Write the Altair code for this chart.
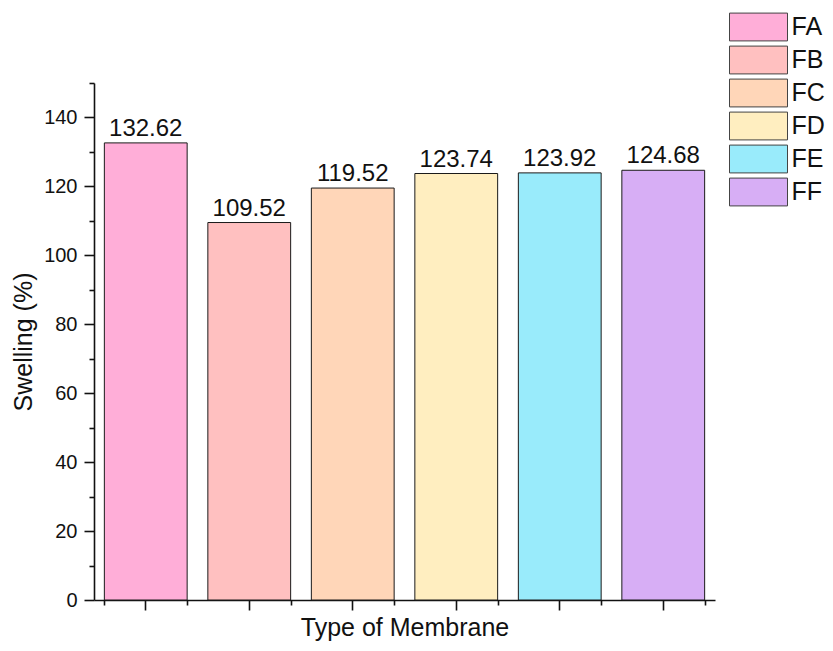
import altair as alt
import pandas as pd

membranes = ["FA", "FB", "FC", "FD", "FE", "FF"]
swelling = [132.62, 109.52, 119.52, 123.74, 123.92, 124.68]
colors = ["#FFAED8", "#FFC0C0", "#FFD6B8", "#FFEEC0", "#99EBFB", "#D7AEF5"]
major_y = [0, 20, 40, 60, 80, 100, 120, 140]
minor_y = [10, 30, 50, 70, 90, 110, 130, 150]

df = pd.DataFrame({"Membrane": membranes, "Swelling": swelling})
df["Label"] = [f"{v:.2f}" for v in swelling]

FONT = "Liberation Sans"

xscale = alt.Scale(paddingInner=0.2, paddingOuter=0.1)
yscale = alt.Scale(domain=[0, 150], nice=False, zero=True)
cscale = alt.Scale(domain=membranes, range=colors)

bars = alt.Chart(df).mark_bar(stroke="#1a1a1a", strokeWidth=1).encode(
    x=alt.X("Membrane:N", sort=membranes, scale=xscale,
            axis=alt.Axis(title="Type of Membrane", labels=False, tickSize=10,
                          orient="bottom", titlePadding=5)),
    y=alt.Y("Swelling:Q", scale=yscale,
            axis=alt.Axis(title="Swelling (%)", values=major_y, tickSize=10,
                          labelPadding=7, orient="left", titlePadding=7)),
    color=alt.Color("Membrane:N", scale=cscale, sort=membranes,
                    legend=alt.Legend(title=None, orient="none", legendX=649.5, legendY=-71,
                                      symbolType="M-2,-0.96H2V0.96H-2Z", symbolSize=841,
                                      symbolStrokeColor="#444444", symbolStrokeWidth=1,
                                      symbolOpacity=1, labelFontSize=25, labelFont=FONT,
                                      labelColor="#111111", labelOffset=18, rowPadding=1,
                                      padding=0)),
)

labels = alt.Chart(df).mark_text(baseline="alphabetic", dy=-7, fontSize=24, font=FONT,
                                 color="#111111").encode(
    x=alt.X("Membrane:N", sort=membranes, scale=xscale,
            axis=alt.Axis(title=None, labels=False, tickSize=5, tickBand="extent",
                          domain=False, orient="bottom")),
    y=alt.Y("Swelling:Q", scale=yscale,
            axis=alt.Axis(title=None, labels=False, values=minor_y, tickSize=5,
                          domain=False, orient="left")),
    text="Label:N",
)

chart = alt.layer(bars, labels).resolve_axis(x="independent", y="independent").properties(
    width=621, height=517,
    autosize=alt.AutoSizeParams(type="none"),
    padding={"left": 86, "top": 75, "right": 110, "bottom": 43},
).configure_view(stroke=None).configure_axis(
    labelFont=FONT, titleFont=FONT, labelFontSize=20, titleFontSize=25,
    titleFontWeight="normal", labelColor="#111111", titleColor="#111111",
    domainColor="#111111", tickColor="#111111", domainWidth=1.6, tickWidth=1.6,
    grid=False,
)

chart.save("out.html", embed_options={"renderer": "svg", "actions": False})
